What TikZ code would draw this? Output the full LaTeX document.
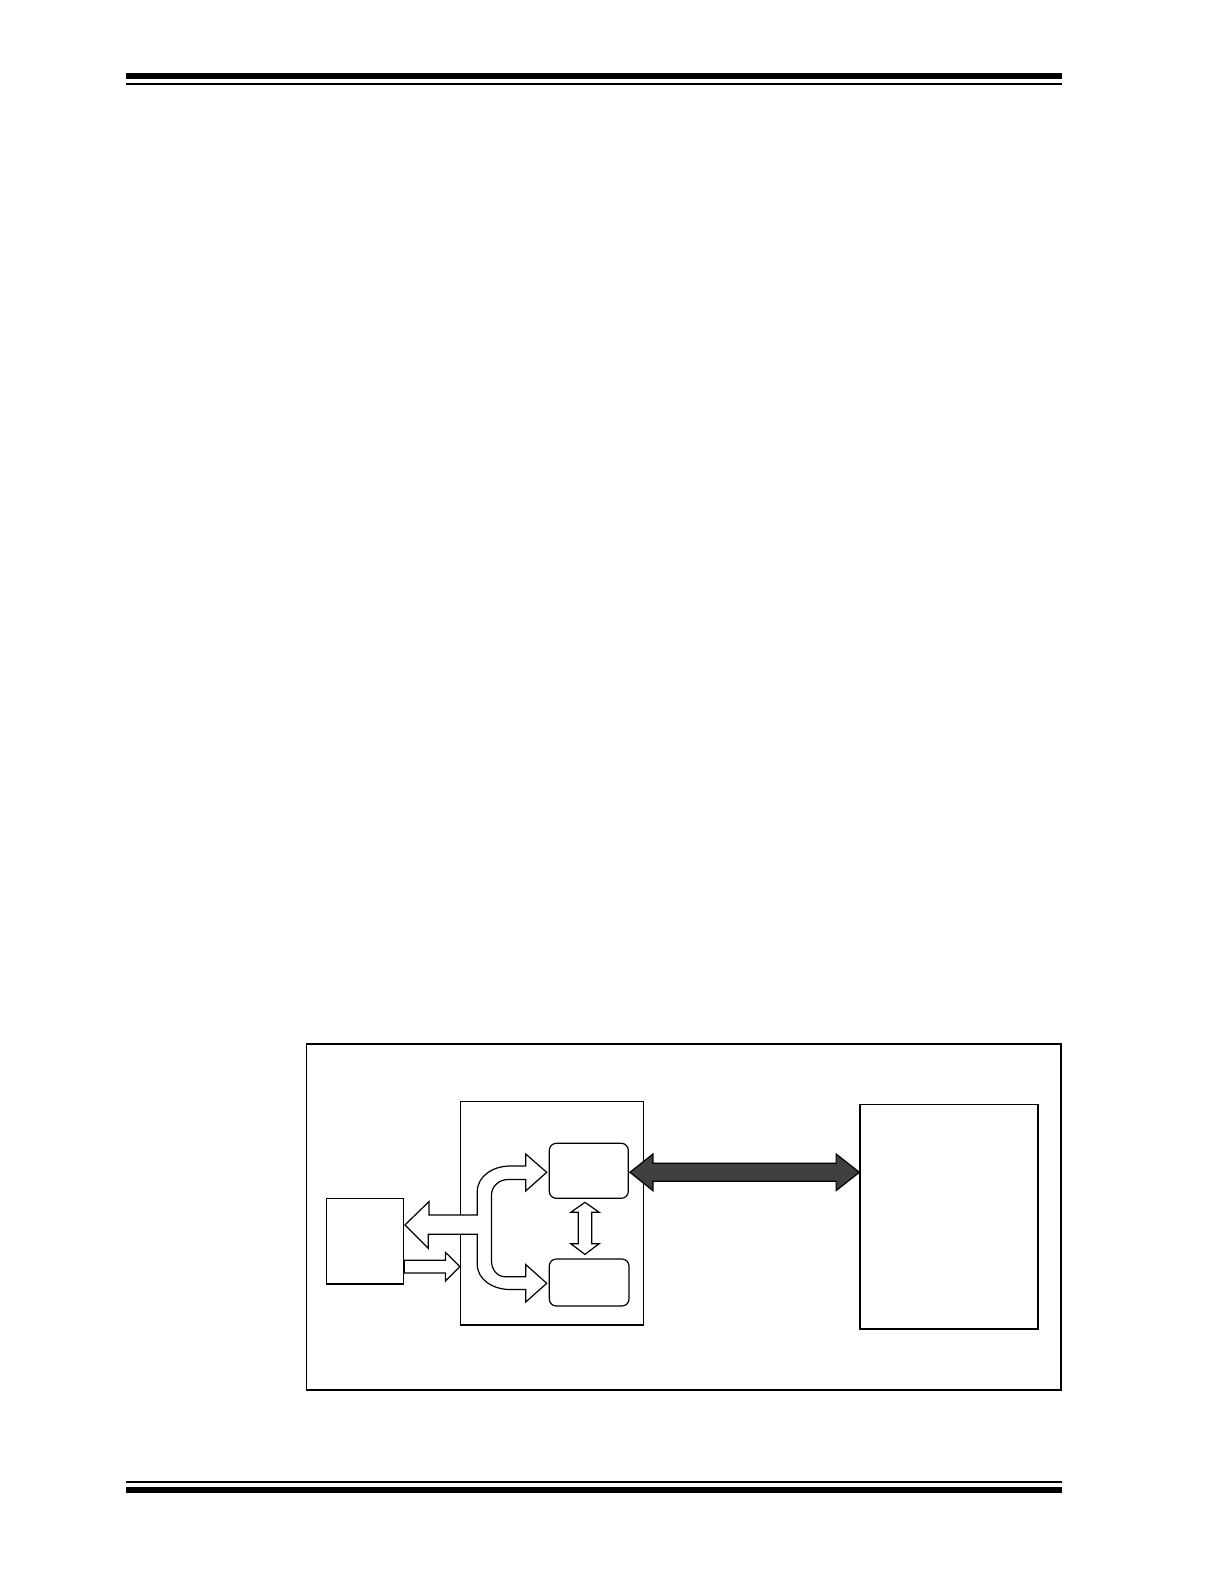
\documentclass[tikz,border=0pt]{standalone}
\usetikzlibrary{fit,calc}
\begin{document}
\begin{tikzpicture}[x=0.5pt, y=-0.5pt,
  blk/.style={draw, line width=0.6pt, inner sep=0pt},
  mem/.style={blk, rounded corners=3.5pt},
  bus/.style={draw, fill=white, line width=0.6pt},
  hostbus/.style={draw, fill=black!75, line width=0.6pt}]
\useasboundingbox (0,0) rectangle (1224,1584);

% Page rules
\draw[line width=3pt] (126,75.8) -- (1062,75.8);
\draw[line width=1pt] (126,83.7) -- (1062,83.7);
\draw[line width=1pt] (126,1482) -- (1062,1482);
\draw[line width=3pt] (126,1490.3) -- (1062,1490.3);

% Blocks
\node[blk, fit={(306.5,1044) (1061,1390)}] (frame) {};
\node[blk, fit={(460.5,1101.5) (643.5,1325)}] (ctrl) {};
\node[blk, fit={(326.3,1198.3) (403.7,1284)}] (src) {};
\node[mem, fit={(549.3,1143.3) (628.3,1198.3)}] (mema) {};
\node[mem, fit={(549.3,1259) (629,1306)}] (memb) {};
\node[blk, fit={(860,1104.3) (1037.7,1328.3)}] (host) {};
\draw[line width=1.1pt] (host.north east) -- (host.south east) -- (host.south west);

% Arrow tips
\coordinate (bl) at ($(src.east)+(0.6,-16.2)$);
\coordinate (ua) at ($(mema.west)+(-2,1.5)$);
\coordinate (ub) at ($(memb.west)+(-2,0.8)$);
\coordinate (da) at ($(mema.east)+(1,1.5)$);
\coordinate (db) at (host.west |- da);
\coordinate (va) at ($(mema.south)+(-3.8,3.4)$);
\coordinate (vb) at ($(memb.north)+(-4.2,-4)$);
\coordinate (sa) at ($(src.east)+(0,25.5)$);
\coordinate (sb) at (ctrl.west |- sa);

% Branching bus
\draw[bus] (bl) -- ++(24,-23.3) -- ++(0,13.3) -- (477.2,1215) -- (477.2,1192)
  to[out=90,in=180] (510,1166) -- (525.7,1166) -- (525.7,1154) -- (ua)
  -- (525.7,1191) -- (525.7,1179.5) -- (508,1179.5) to[out=180,in=90] (491.5,1195)
  -- (491.5,1261) to[out=-90,in=180] (505,1276.7) -- (525.7,1276.7)
  -- (525.7,1264.5) -- (ub) -- (525.7,1302) -- (525.7,1289.5) -- (510,1289.5)
  to[out=180,in=-90] (477.2,1264) -- (477.2,1234.3) -- (428.3,1234.3)
  -- (428.3,1248.3) -- cycle;

% Input bus
\draw[bus] ($(sa)+(0,-6.4)$) -- ($(sb)+(-14.5,-6.4)$) -- ++(0,-8) -- (sb)
  -- ++(-14.5,14.4) -- ++(0,-8) -- ($(sa)+(0,6.4)$) -- cycle;

% Memory link
\draw[bus] (va) -- ++(14.2,10) -- ++(-7.5,0) -- ($(vb)+(6.7,-10.7)$) -- ++(7.5,0)
  -- (vb) -- ++(-14.2,-10.7) -- ++(7.5,0) -- ($(va)+(-6.7,10)$) -- ++(-7.5,0) -- cycle;

% Host link
\draw[hostbus] (da) -- ++(23,-18.3) -- ++(0,9.3) -- ($(db)+(-23.3,-9)$) -- ++(0,-9.3)
  -- (db) -- ++(-23.3,18.3) -- ++(0,-9.3) -- ($(da)+(23,9)$) -- ++(0,9.3) -- cycle;

\end{tikzpicture}
\end{document}
